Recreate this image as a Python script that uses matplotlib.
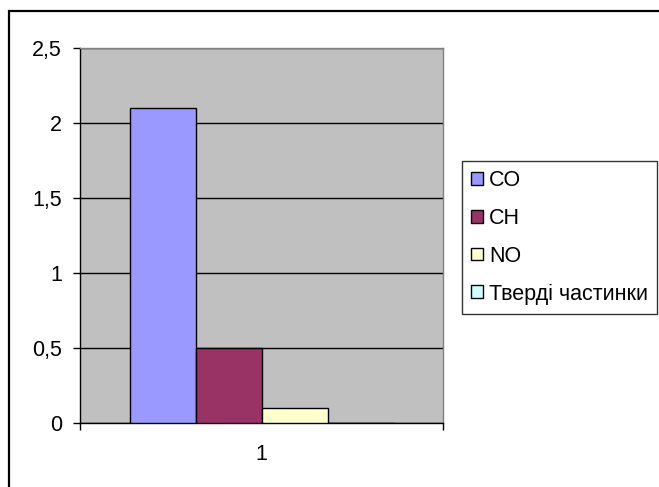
import matplotlib
matplotlib.use("Agg")
import matplotlib.pyplot as plt
from matplotlib.patches import Rectangle
import numpy as np

plt.rcParams['font.family'] = ['Liberation Sans', 'DejaVu Sans']

categories = ["1"]
series_names = ["CO", "CH", "NO", "Тверді частинки"]
series_values = [2.1, 0.5, 0.1, 0.0]
series_colors = ["#9999FF", "#993366", "#FFFFCC", "#CCFFFF"]
y_ticks = [0, 0.5, 1, 1.5, 2, 2.5]
y_tick_labels = ["0", "0,5", "1", "1,5", "2", "2,5"]

FS = 15.5

fig = plt.figure(figsize=(6.59, 4.87), dpi=100)
ax = fig.add_axes([80 / 659, 1 - 423 / 487, 363 / 659, 375 / 487])
ax.set_facecolor("#C0C0C0")

# outer chart frame
fig.patches.append(Rectangle((9 / 659, -0.1), 1.2, 1 - 10.5 / 487 + 0.1,
                             transform=fig.transFigure, fill=False,
                             edgecolor="black", linewidth=1.6, zorder=0))

bar_w = 1 / 5.5
n = len(series_names)
x0 = 0.5
for i, (name, val, col) in enumerate(zip(series_names, series_values, series_colors)):
    pos = x0 + (i - (n - 1) / 2) * bar_w
    ax.bar(pos, val, width=bar_w, color=col, edgecolor="black",
           linewidth=1.0, label=name, zorder=3)

ax.set_xlim(0, 1)
ax.set_ylim(0, 2.5)
ax.set_yticks(y_ticks)
ax.set_yticklabels(y_tick_labels, fontsize=FS)
ax.yaxis.grid(True, color="black", linewidth=1.0, zorder=1)
ax.set_axisbelow(True)

ax.set_xticks([0, 1])
ax.set_xticklabels([])
ax.set_xticks([0.5], minor=True)
ax.set_xticklabels(categories, minor=True, fontsize=FS)
ax.tick_params(axis="x", which="major", direction="out", length=5, width=1)
ax.tick_params(axis="x", which="minor", length=0, pad=15)
ax.tick_params(axis="y", direction="out", length=5, width=1, pad=8)

for side in ("left", "bottom"):
    ax.spines[side].set_color("black")
    ax.spines[side].set_linewidth(1.0)
for side in ("top", "right"):
    ax.spines[side].set_color("#808080")
    ax.spines[side].set_linewidth(1.0)

leg = fig.legend(loc="upper left", bbox_to_anchor=(462 / 659, 1 - 161 / 487),
                 fontsize=FS, frameon=True, fancybox=False, edgecolor="black",
                 handlelength=0.55, handleheight=0.55, handletextpad=0.3,
                 labelspacing=0.78, borderpad=0.42, borderaxespad=0)
leg.get_frame().set_linewidth(1.0)

fig.savefig("out.png", dpi=100)
